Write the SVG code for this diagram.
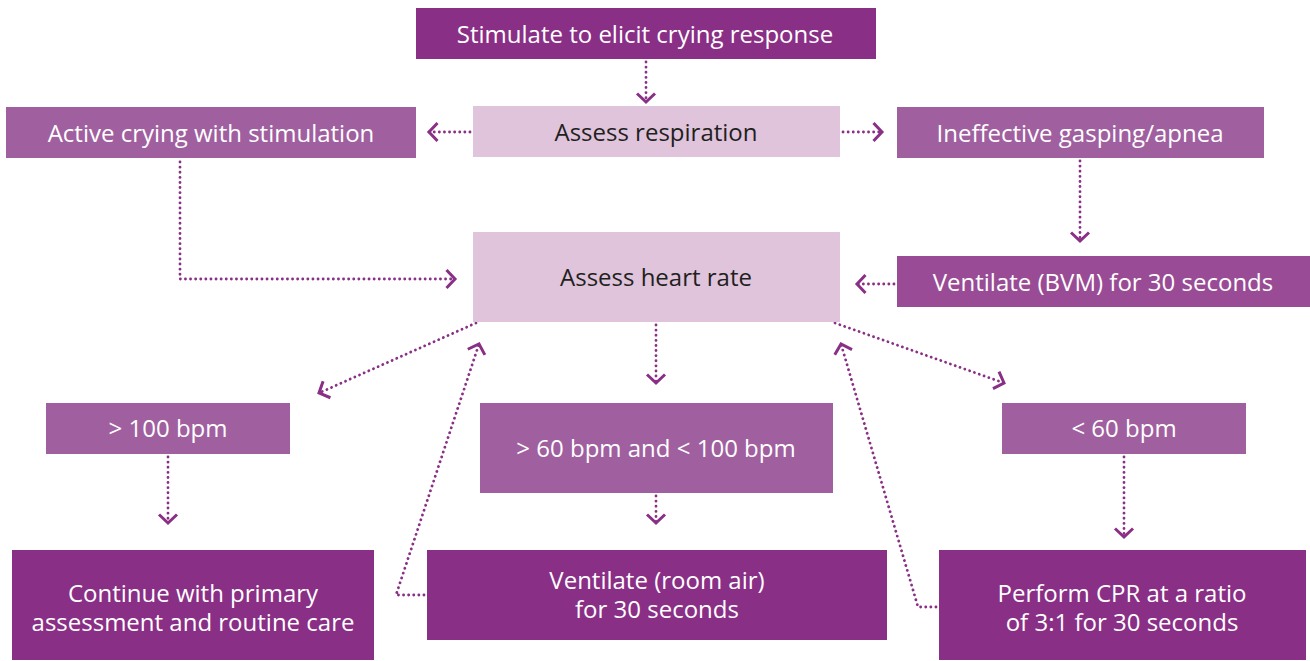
<svg xmlns="http://www.w3.org/2000/svg" width="1310" height="661" viewBox="0 0 1310 661">
  <style>
    .dark { fill: #8a2f86; }
    .mid { fill: #a060a0; }
    .mid2 { fill: #994c95; }
    .light { fill: #dfc4dc; }
    text { font-family: "Open Sans", "Noto Sans", sans-serif; font-size: 24px; text-anchor: middle; }
    .wt { fill: #ffffff; }
    .dk { fill: #231f20; }
    .link { fill: none; stroke: #8a2f86; stroke-width: 2.8; stroke-linecap: round; stroke-dasharray: 0.1 5; marker-end: url(#chev); }
  </style>
  <defs>
    <marker id="chev" markerUnits="userSpaceOnUse" markerWidth="26" markerHeight="26" viewBox="-13 -13 26 26" refX="0" refY="0" orient="auto">
      <path d="M-8.5,-9 L0,0 L-8.5,9" fill="none" stroke="#8a2f86" stroke-width="3"/>
    </marker>
  </defs>

  <rect width="1310" height="661" fill="#ffffff"/>

  <g id="connectors">
    <path class="link" d="M646,62 V102"/>
    <path class="link" d="M470,132 H429"/>
    <path class="link" d="M843,132 H882"/>
    <path class="link" d="M180,162 V279 H455"/>
    <path class="link" d="M1080,161 V241"/>
    <path class="link" d="M894,284 H857"/>
    <path class="link" d="M476,323 L319,393"/>
    <path class="link" d="M656,325 V383"/>
    <path class="link" d="M835,323 L1004,383"/>
    <path class="link" d="M168,457 V523"/>
    <path class="link" d="M656,496 V523"/>
    <path class="link" d="M1124,457 V537"/>
    <path class="link" d="M424,595 H396 L479,344"/>
    <path class="link" d="M936,607 H918 L841,344"/>
  </g>

  <g id="stimulate">
    <rect class="dark" x="416" y="8" width="460" height="51"/>
    <text class="wt" x="645" y="43">Stimulate to elicit crying response</text>
  </g>
  <g id="assess-respiration">
    <rect class="light" x="473" y="106" width="367" height="51"/>
    <text class="dk" x="656" y="141">Assess respiration</text>
  </g>
  <g id="active-crying">
    <rect class="mid" x="6" y="107" width="410" height="51"/>
    <text class="wt" x="211" y="142">Active crying with stimulation</text>
  </g>
  <g id="ineffective-gasping">
    <rect class="mid" x="897" y="107" width="367" height="51"/>
    <text class="wt" x="1080" y="142">Ineffective gasping/apnea</text>
  </g>
  <g id="ventilate-bvm">
    <rect class="mid2" x="897" y="256" width="413" height="51"/>
    <text class="wt" x="1103" y="291">Ventilate (BVM) for 30 seconds</text>
  </g>
  <g id="assess-heart-rate">
    <rect class="light" x="473" y="232" width="367" height="90"/>
    <text class="dk" x="656" y="286">Assess heart rate</text>
  </g>
  <g id="hr-over-100">
    <rect class="mid" x="46" y="403" width="244" height="51"/>
    <text class="wt" x="168" y="437">&gt; 100 bpm</text>
  </g>
  <g id="hr-60-100">
    <rect class="mid" x="480" y="403" width="353" height="90"/>
    <text class="wt" x="656" y="457">&gt; 60 bpm and &lt; 100 bpm</text>
  </g>
  <g id="hr-under-60">
    <rect class="mid" x="1002" y="403" width="244" height="51"/>
    <text class="wt" x="1124" y="437">&lt; 60 bpm</text>
  </g>
  <g id="continue-care">
    <rect class="dark" x="12" y="550" width="362" height="110"/>
    <text class="wt" x="193" y="602">Continue with primary</text>
    <text class="wt" x="193" y="631">assessment and routine care</text>
  </g>
  <g id="ventilate-room-air">
    <rect class="dark" x="427" y="550" width="460" height="90"/>
    <text class="wt" x="657" y="589">Ventilate (room air)</text>
    <text class="wt" x="657" y="618">for 30 seconds</text>
  </g>
  <g id="perform-cpr">
    <rect class="dark" x="939" y="550" width="367" height="110"/>
    <text class="wt" x="1122" y="602">Perform CPR at a ratio</text>
    <text class="wt" x="1122" y="631">of 3:1 for 30 seconds</text>
  </g>
</svg>
